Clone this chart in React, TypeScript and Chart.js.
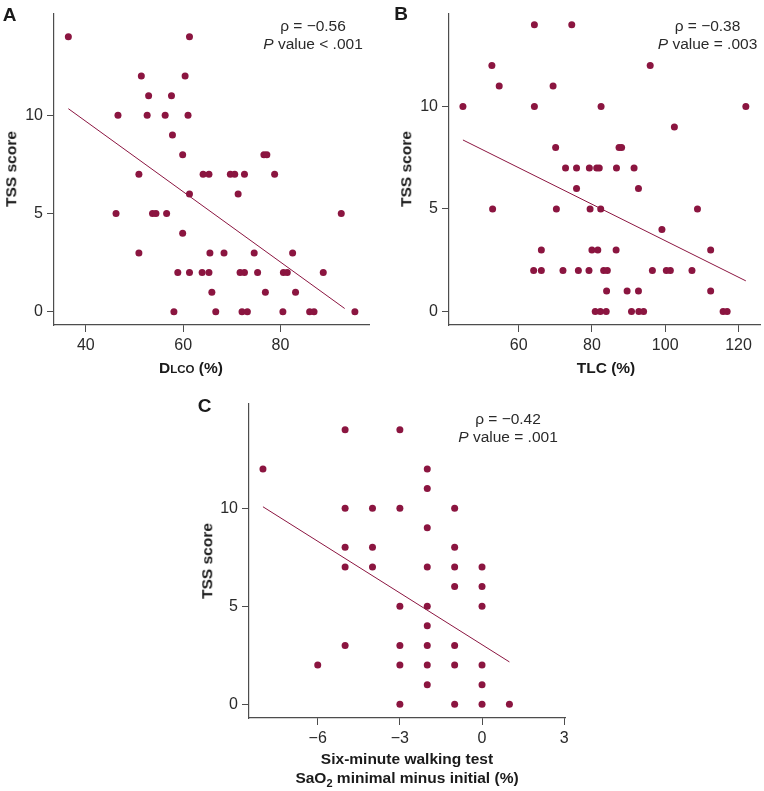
import React, { useEffect, useRef } from "react";
import { Chart, registerables } from "chart.js";

Chart.register(...registerables);

// ---------- DATA ----------
// Panel A: DLCO (%) vs TSS score
const dlcoX = [36.4, 61.3, 51.4, 60.4, 52.9, 57.6, 46.6, 52.6, 56.3, 61.0, 57.8, 59.9, 76.6, 77.2, 50.9, 64.1, 65.3, 69.7, 70.6, 72.6, 78.8, 61.3, 71.3, 46.2, 53.7, 54.4, 56.6, 92.5, 59.9, 50.9, 65.5, 68.4, 74.6, 82.5, 58.9, 61.3, 63.9, 65.3, 71.7, 72.6, 75.3, 80.6, 81.4, 88.8, 65.9, 76.9, 83.1, 58.1, 66.7, 72.1, 73.2, 80.5, 86.0, 86.9, 95.3];
const dlcoTss = [14, 14, 12, 12, 11, 11, 10, 10, 10, 10, 9, 8, 8, 8, 7, 7, 7, 7, 7, 7, 7, 6, 6, 5, 5, 5, 5, 5, 4, 3, 3, 3, 3, 3, 2, 2, 2, 2, 2, 2, 2, 2, 2, 2, 1, 1, 1, 0, 0, 0, 0, 0, 0, 0, 0];
const dlcoFitX = [36.4, 93.2];
const dlcoFitY = [10.34, 0.17];

// Panel B: TLC (%) vs TSS score
const tlcX = [64.3, 74.5, 52.7, 95.9, 54.7, 69.4, 44.8, 64.3, 82.5, 122.0, 102.5, 70.1, 87.4, 88.1, 72.8, 75.8, 79.3, 81.3, 82.0, 86.7, 91.5, 75.8, 92.7, 52.9, 70.3, 79.5, 82.4, 108.8, 99.1, 66.2, 80.0, 81.6, 86.6, 112.4, 64.1, 66.2, 72.1, 76.3, 79.2, 83.2, 84.2, 96.5, 100.3, 101.4, 107.3, 84.0, 89.6, 92.7, 112.4, 80.9, 82.3, 83.9, 90.8, 92.8, 94.1, 115.8, 116.9];
const tlcTss = [14, 14, 12, 12, 11, 11, 10, 10, 10, 10, 9, 8, 8, 8, 7, 7, 7, 7, 7, 7, 7, 6, 6, 5, 5, 5, 5, 5, 4, 3, 3, 3, 3, 3, 2, 2, 2, 2, 2, 2, 2, 2, 2, 2, 2, 1, 1, 1, 1, 0, 0, 0, 0, 0, 0, 0, 0];
const tlcFitX = [44.8, 122.0];
const tlcFitY = [8.37, 1.49];

// Panel C: 6MWT SaO2 minimal minus initial (%) vs TSS score
const satX = [-5, -3, -8, -2, -2, -5, -4, -3, -1, -2, -5, -4, -1, -5, -4, -2, -1, 0, -1, 0, -3, -2, 0, -2, -5, -3, -2, -1, -6, -3, -2, -1, 0, -2, 0, -3, -1, 0, 1];
const satTss = [14, 14, 12, 12, 11, 10, 10, 10, 10, 9, 8, 8, 8, 7, 7, 7, 7, 7, 6, 6, 5, 5, 5, 4, 3, 3, 3, 3, 2, 2, 2, 2, 2, 1, 1, 0, 0, 0, 0];
const satFitX = [-8, 1];
const satFitY = [10.07, 2.16];

// Tick labels
const dlcoTicks = [40, 60, 80];
const tlcTicks = [60, 80, 100, 120];
const satTicks = [-6, -3, 0, 3];
const tssTicks = [0, 5, 10];

// ---------- STYLE ----------
const FONT = '"Liberation Sans", Arial, Helvetica, sans-serif';
const RED = "#8b1540";
const AXIS = "#4d4d4d";
const TEXT = "#2a2a2a";

type PanelProps = {
  left: number; top: number; width: number; height: number;
  xs: number[]; ys: number[]; fx: number[]; fy: number[];
  xMin: number; xMax: number; yMin: number; yMax: number;
  xTicks: number[]; yTicks: number[];
  yAxisW: number; xAxisH: number;
  padTop: number; padRight: number;
};

const fmt = (v: number) => (v < 0 ? "\u2212" + Math.abs(v) : String(v));

function Panel(p: PanelProps) {
  const ref = useRef<HTMLCanvasElement | null>(null);
  useEffect(() => {
    if (!ref.current) return;
    const pts = p.xs.map((x, i) => ({ x, y: p.ys[i] }));
    const fit = p.fx.map((x, i) => ({ x, y: p.fy[i] }));
    const chart = new Chart(ref.current, {
      type: "scatter",
      data: {
        datasets: [
          { data: pts, backgroundColor: RED, borderWidth: 0, pointRadius: 3.5, pointHoverRadius: 3.5 },
          { data: fit, showLine: true, borderColor: RED, borderWidth: 1, pointRadius: 0, fill: false } as any,
        ],
      },
      options: {
        responsive: false,
        animation: false,
        devicePixelRatio: 1,
        events: [],
        layout: { padding: { top: p.padTop, right: p.padRight, left: 0, bottom: 0 } },
        plugins: { legend: { display: false }, tooltip: { enabled: false } },
        scales: {
          x: {
            type: "linear",
            min: p.xMin,
            max: p.xMax,
            afterBuildTicks: (s: any) => { s.ticks = p.xTicks.map((v) => ({ value: v })); },
            afterFit: (s: any) => { s.height = p.xAxisH; },
            grid: { display: true, drawOnChartArea: false, drawTicks: true, tickLength: 7, color: AXIS, lineWidth: 1 },
            border: { display: true, color: AXIS, width: 1.2 },
            ticks: { font: { family: FONT, size: 16 }, color: TEXT, padding: 4, maxRotation: 0, callback: (v: any) => fmt(Number(v)) },
          },
          y: {
            type: "linear",
            min: p.yMin,
            max: p.yMax,
            afterBuildTicks: (s: any) => { s.ticks = p.yTicks.map((v) => ({ value: v })); },
            afterFit: (s: any) => { s.width = p.yAxisW; },
            grid: { display: true, drawOnChartArea: false, drawTicks: true, tickLength: 7, color: AXIS, lineWidth: 1 },
            border: { display: true, color: AXIS, width: 1.2 },
            ticks: { font: { family: FONT, size: 16 }, color: TEXT, padding: 4, callback: (v: any) => fmt(Number(v)) },
          },
        },
      },
    });
    return () => chart.destroy();
  }, []);
  return (
    <canvas
      ref={ref}
      width={p.width}
      height={p.height}
      style={{ position: "absolute", left: p.left, top: p.top, width: p.width, height: p.height, display: "block" }}
    />
  );
}

function T(props: { x: number; y: number; size: number; bold?: boolean; rotate?: boolean; children: React.ReactNode }) {
  return (
    <div
      style={{
        position: "absolute",
        left: props.x,
        top: props.y,
        transform: "translate(-50%,-50%)" + (props.rotate ? " rotate(-90deg)" : ""),
        whiteSpace: "nowrap",
        lineHeight: 1,
        fontFamily: FONT,
        fontSize: props.size,
        fontWeight: props.bold ? 700 : 400,
        color: props.bold ? "#1a1a1a" : TEXT,
      }}
    >
      {props.children}
    </div>
  );
}

export default function App() {
  return (
    <div style={{ position: "absolute", left: 0, top: 0, width: 764, height: 791, background: "#fff", overflow: "hidden" }}>
      {/* Panel A */}
      <Panel left={0} top={0} width={382} height={360}
        xs={dlcoX} ys={dlcoTss} fx={dlcoFitX} fy={dlcoFitY}
        xMin={33.45} xMax={98.2} yMin={-0.67} yMax={15.18}
        xTicks={dlcoTicks} yTicks={tssTicks}
        yAxisW={54} xAxisH={35} padTop={12} padRight={13} />
      {/* Panel B */}
      <Panel left={382} top={0} width={382} height={360}
        xs={tlcX} ys={tlcTss} fx={tlcFitX} fy={tlcFitY}
        xMin={41.0} xMax={126.0} yMin={-0.665} yMax={14.54}
        xTicks={tlcTicks} yTicks={tssTicks}
        yAxisW={67} xAxisH={35} padTop={12} padRight={0} />
      {/* Panel C */}
      <Panel left={190} top={390} width={400} height={370}
        xs={satX} ys={satTss} fx={satFitX} fy={satFitY}
        xMin={-8.51} xMax={3.03} yMin={-0.7} yMax={15.31}
        xTicks={satTicks} yTicks={tssTicks}
        yAxisW={59} xAxisH={42} padTop={14} padRight={25} />

      {/* Panel letters */}
      <T x={9.5} y={13.5} size={19} bold>A</T>
      <T x={401} y={12.5} size={19} bold>B</T>
      <T x={204.5} y={405} size={19} bold>C</T>

      {/* Annotations */}
      <T x={313} y={25.5} size={15.5}>ρ = −0.56</T>
      <T x={313} y={43.5} size={15.5}><i>P</i> value &lt; .001</T>
      <T x={707.5} y={25.5} size={15.5}>ρ = −0.38</T>
      <T x={707.5} y={43.5} size={15.5}><i>P</i> value = .003</T>
      <T x={508} y={418.5} size={15.5}>ρ = −0.42</T>
      <T x={508} y={437} size={15.5}><i>P</i> value = .001</T>

      {/* Y axis titles */}
      <T x={11} y={169} size={15.5} bold rotate>TSS score</T>
      <T x={405.5} y={168.5} size={15.5} bold rotate>TSS score</T>
      <T x={206.7} y={561} size={15.5} bold rotate>TSS score</T>

      {/* X axis titles */}
      <T x={191} y={367.5} size={15.5} bold>D<span style={{ fontSize: 11.5 }}>LCO</span> (%)</T>
      <T x={606} y={367.5} size={15.5} bold>TLC (%)</T>
      <T x={407} y={759} size={15.5} bold>Six-minute walking test</T>
      <T x={407} y={778} size={15.5} bold>SaO<span style={{ fontSize: 11, position: "relative", top: 4 }}>2</span> minimal minus initial (%)</T>
    </div>
  );
}
